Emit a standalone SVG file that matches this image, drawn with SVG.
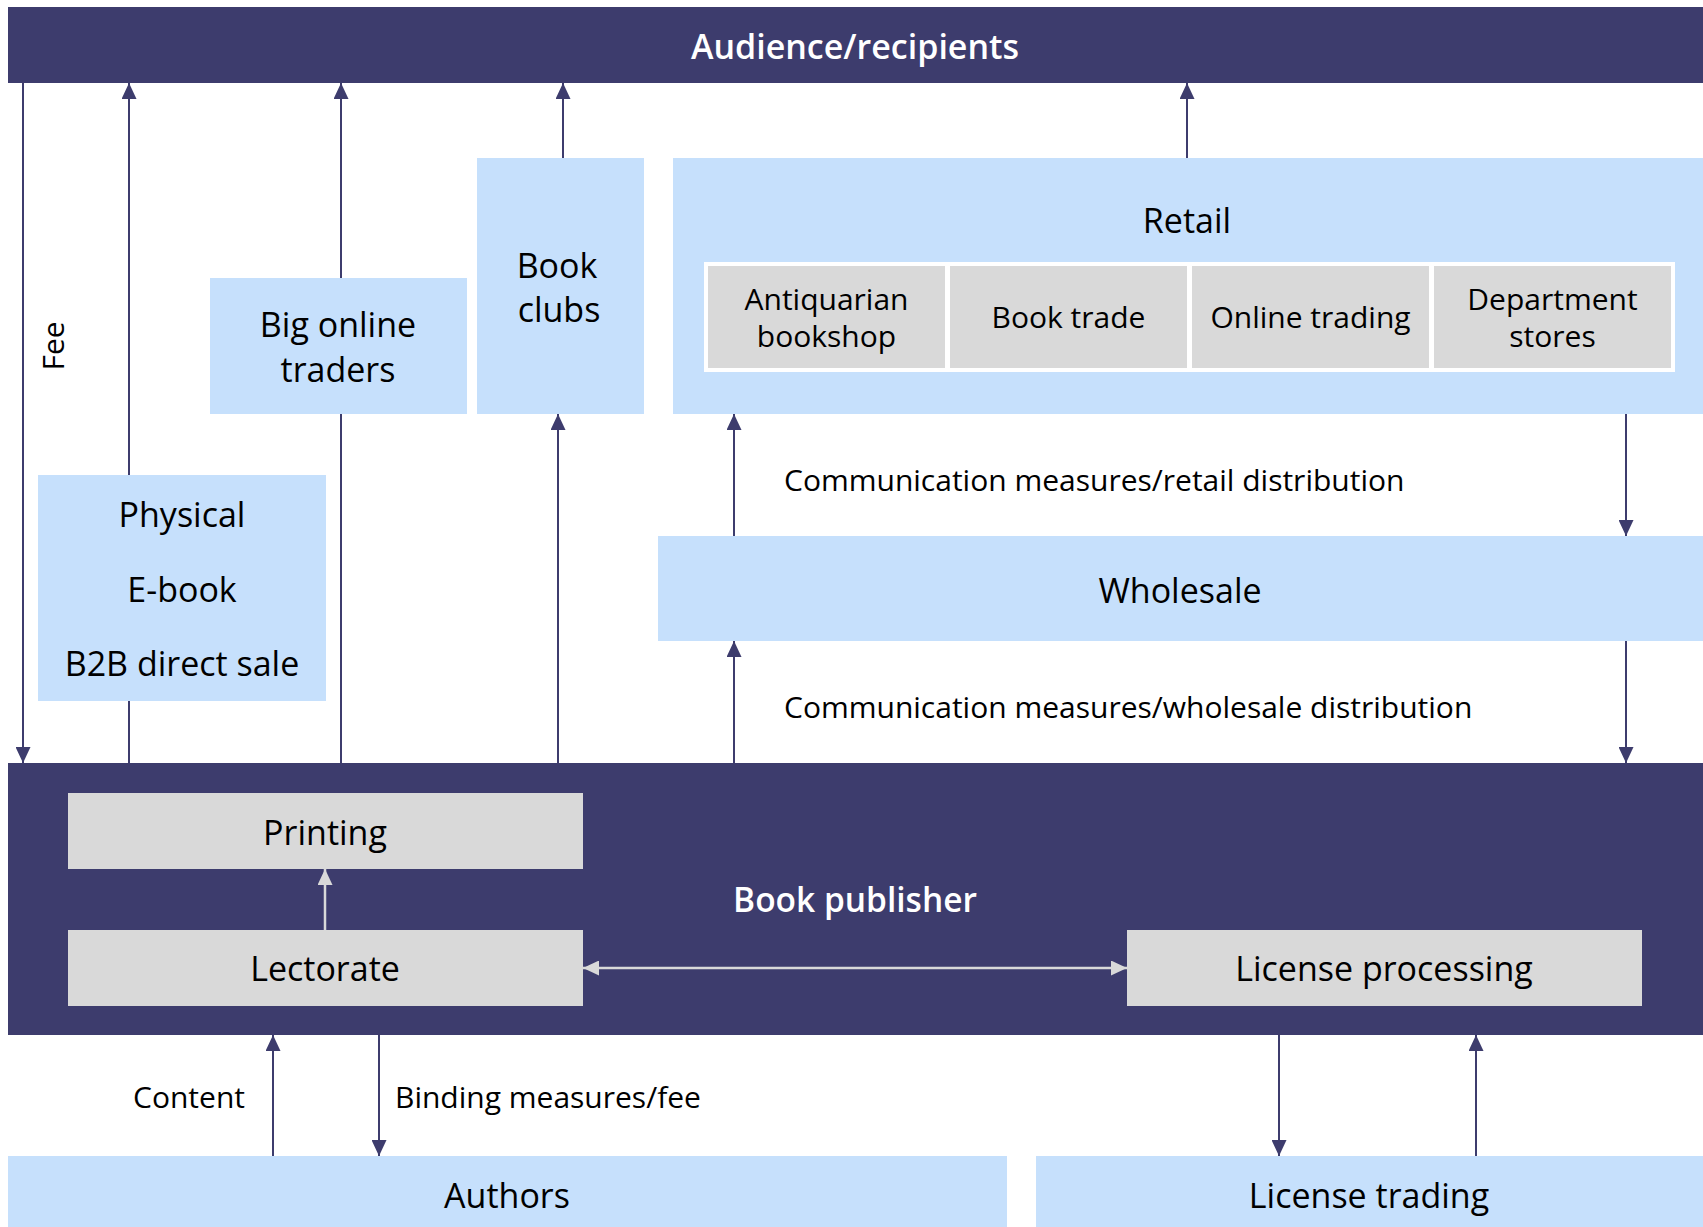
<svg xmlns="http://www.w3.org/2000/svg" width="1703" height="1227" viewBox="0 0 1703 1227">
<style>
text{font-family:"Open Sans","Noto Sans","Liberation Sans",sans-serif;fill:#000;}
.dark{fill:#3d3c6d;}
.light{fill:#c6e0fc;}
.gray{fill:#d9d9d9;}
.big{font-size:34px;text-anchor:middle;}
.mid{font-size:30px;text-anchor:middle;}
.lab{font-size:30px;}
.white{fill:#fff;font-weight:600;text-anchor:middle;}
.c{stroke:#3d3c6d;stroke-width:2;fill:none;}
.g{stroke:#d9d9d9;stroke-width:2.5;fill:none;}
</style>
<defs>
<marker id="ah" markerUnits="userSpaceOnUse" markerWidth="16" markerHeight="15" refX="16" refY="7.5" orient="auto"><path d="M0,0 L16,7.5 L0,15 z" fill="#3d3c6d"/></marker>
<marker id="gh" markerUnits="userSpaceOnUse" markerWidth="16" markerHeight="15" refX="16" refY="7.5" orient="auto-start-reverse"><path d="M0,0 L16,7.5 L0,15 z" fill="#d9d9d9"/></marker>
</defs>
<rect width="1703" height="1227" fill="#fff"/>

<g id="audience">
<rect class="dark" x="8" y="7" width="1695" height="76"/>
<text class="white" x="855" y="59" font-size="34">Audience/recipients</text>
</g>
<g id="book-publisher">
<rect class="dark" x="8" y="763" width="1695" height="272"/>
<text class="white" x="855" y="912" font-size="33.5">Book publisher</text>
</g>
<g id="retail">
<rect class="light" x="673" y="158" width="1030" height="256"/>
<text class="big" x="1187" y="233">Retail</text>
<rect x="704" y="262" width="971" height="110" fill="#fff"/>
</g>
<g id="antiquarian-bookshop">
<rect class="gray" x="708" y="266" width="237" height="102"/>
<text class="mid" x="826.5" y="310">Antiquarian</text>
<text class="mid" x="826.5" y="347">bookshop</text>
</g>
<g id="book-trade">
<rect class="gray" x="950" y="266" width="237" height="102"/>
<text class="mid" x="1068.5" y="328">Book trade</text>
</g>
<g id="online-trading">
<rect class="gray" x="1192" y="266" width="237" height="102"/>
<text class="mid" x="1310.5" y="328">Online trading</text>
</g>
<g id="department-stores">
<rect class="gray" x="1434" y="266" width="237" height="102"/>
<text class="mid" x="1552.5" y="310">Department</text>
<text class="mid" x="1552.5" y="347">stores</text>
</g>
<g id="wholesale">
<rect class="light" x="658" y="536" width="1045" height="105"/>
<text class="big" x="1180" y="603">Wholesale</text>
</g>
<g id="book-clubs">
<rect class="light" x="477" y="158" width="167" height="256"/>
<text class="big" x="557" y="278">Book</text>
<text class="big" x="559" y="322">clubs</text>
</g>
<g id="authors">
<rect class="light" x="8" y="1156" width="999" height="71"/>
<text class="big" x="507" y="1208">Authors</text>
</g>
<g id="license-trading">
<rect class="light" x="1036" y="1156" width="667" height="71"/>
<text class="big" x="1369" y="1208">License trading</text>
</g>

<g id="connectors">
<line class="c" x1="23" y1="83" x2="23" y2="763" marker-end="url(#ah)"/>
<line class="c" x1="129" y1="763" x2="129" y2="83" marker-end="url(#ah)"/>
<line class="c" x1="341" y1="763" x2="341" y2="83" marker-end="url(#ah)"/>
<line class="c" x1="563" y1="158" x2="563" y2="83" marker-end="url(#ah)"/>
<line class="c" x1="558" y1="763" x2="558" y2="414" marker-end="url(#ah)"/>
<line class="c" x1="1187" y1="158" x2="1187" y2="83" marker-end="url(#ah)"/>
<line class="c" x1="734" y1="536" x2="734" y2="414" marker-end="url(#ah)"/>
<line class="c" x1="1626" y1="414" x2="1626" y2="536" marker-end="url(#ah)"/>
<line class="c" x1="734" y1="763" x2="734" y2="641" marker-end="url(#ah)"/>
<line class="c" x1="1626" y1="641" x2="1626" y2="763" marker-end="url(#ah)"/>
<line class="c" x1="273" y1="1156" x2="273" y2="1035" marker-end="url(#ah)"/>
<line class="c" x1="379" y1="1035" x2="379" y2="1156" marker-end="url(#ah)"/>
<line class="c" x1="1279" y1="1035" x2="1279" y2="1156" marker-end="url(#ah)"/>
<line class="c" x1="1476" y1="1156" x2="1476" y2="1035" marker-end="url(#ah)"/>
<line class="g" x1="325" y1="930" x2="325" y2="869" marker-end="url(#gh)"/>
<line class="g" x1="583" y1="968" x2="1127" y2="968" marker-start="url(#gh)" marker-end="url(#gh)"/>
<text class="lab" transform="translate(64,346) rotate(-90)" text-anchor="middle">Fee</text>
<text class="lab" x="784" y="491">Communication measures/retail distribution</text>
<text class="lab" x="784" y="718">Communication measures/wholesale distribution</text>
<text class="lab" x="245" y="1108" text-anchor="end">Content</text>
<text class="lab" x="395" y="1108">Binding measures/fee</text>
</g>

<g id="physical">
<rect class="light" x="38" y="475" width="288" height="226"/>
<text class="big" x="182" y="527">Physical</text>
<text class="big" x="182" y="602">E-book</text>
<text class="big" x="182" y="676">B2B direct sale</text>
</g>
<g id="big-online-traders">
<rect class="light" x="210" y="278" width="257" height="136"/>
<text class="big" x="338" y="337">Big online</text>
<text class="big" x="338" y="382">traders</text>
</g>
<g id="printing">
<rect class="gray" x="68" y="793" width="515" height="76"/>
<text class="big" x="325" y="845">Printing</text>
</g>
<g id="lectorate">
<rect class="gray" x="68" y="930" width="515" height="76"/>
<text class="big" x="325" y="981">Lectorate</text>
</g>
<g id="license-processing">
<rect class="gray" x="1127" y="930" width="515" height="76"/>
<text class="big" x="1384" y="981">License processing</text>
</g>
</svg>
